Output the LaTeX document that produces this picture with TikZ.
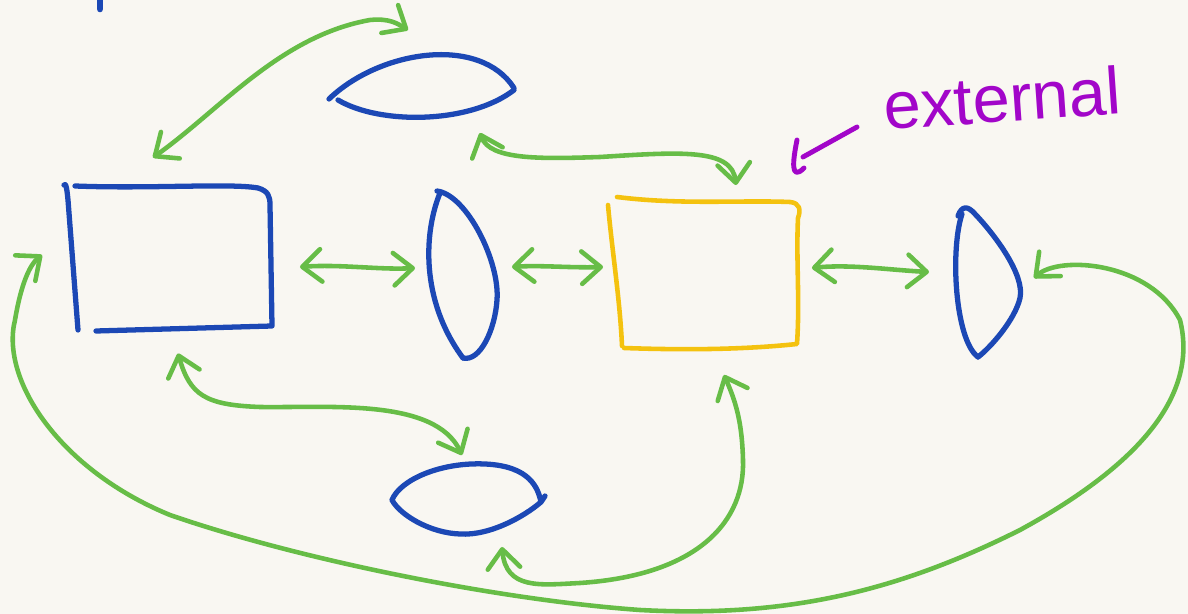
\documentclass[tikz,border=0pt]{standalone}
\usepackage{fontspec}
\setsansfont{Liberation Sans}
\usetikzlibrary{arrows.meta,calc}
\definecolor{bg}{HTML}{F9F7F2}
\definecolor{pen}{HTML}{1C48B5}
\definecolor{grn}{HTML}{67BD47}
\definecolor{ylw}{HTML}{F4C20F}
\definecolor{prp}{HTML}{A206C9}
\begin{document}
\begin{tikzpicture}[x=0.02cm,y=-0.02cm,
  bluepen/.style={draw=pen, line width=3pt, line cap=round, line join=round},
  yellowpen/.style={draw=ylw, line width=2.6pt, line cap=round, line join=round},
  link/.style={draw=grn, line width=2.6pt, line cap=round, line join=round,
    {Straight Barb[length=3.8mm,width=6.5mm,round]}-{Straight Barb[length=3.8mm,width=6.5mm,round]}},
  holder/.style={draw=none, inner sep=0pt, outer sep=0pt, rectangle},
  exttext/.style={text=prp, font=\sffamily\fontsize{38}{42}\selectfont, inner sep=0pt},
  note/.style={draw=prp, line width=2.8pt, line cap=round, line join=round}]
\fill[bg] (0,0) rectangle (1188,614);
\useasboundingbox (0,0) rectangle (1188,614);

% placeholders naming each shape
\node[holder, minimum width=4cm, minimum height=2.9cm] (A) at (170,258) {};
\node[holder, minimum width=3.72cm, minimum height=1.52cm] (TL) at (422,83) {};
\node[holder, minimum width=1.4cm, minimum height=3.4cm] (ML) at (463,275) {};
\node[holder, minimum width=3.92cm, minimum height=3.12cm] (Y) at (704,273) {};
\node[holder, minimum width=1.44cm, minimum height=3cm] (RL) at (988,284) {};
\node[holder, minimum width=3.12cm, minimum height=1.44cm] (BE) at (467,499) {};

% stray blue mark
\draw[bluepen, line width=3.8pt] (100,0) -- (100,9);

% box A
\draw[bluepen] (64,185) .. controls (66,182) and (67,190) .. (68,200) -- (78,330);
\draw[bluepen] (75,186) .. controls (150,189) and (230,183) .. (258,188)
  .. controls (268,191) and (270,196) .. (270,205) -- (272,326) -- (96,331);

% top lens
\draw[bluepen] (329,99) .. controls (380,50) and (480,35) .. (514,88);
\draw[bluepen] (338,100) .. controls (380,125) and (470,124) .. (514,90);

% middle lens
\draw[bluepen] (437,191) .. controls (467,195) and (500,262) .. (497,300)
  .. controls (495,330) and (480,362) .. (463,358);
\draw[bluepen] (440,193) .. controls (424,232) and (420,300) .. (463,358);

% yellow box
\draw[yellowpen] (608,205) .. controls (612,250) and (620,300) .. (622,346);
\draw[yellowpen] (617,197) .. controls (680,205) and (740,200) .. (790,202)
  .. controls (800,203) and (801,210) .. (798,218)
  .. controls (796,260) and (800,300) .. (797,344)
  .. controls (740,350) and (680,350) .. (624,348);

% right lens
\draw[bluepen] (962,214) .. controls (950,250) and (955,340) .. (978,357);
\draw[bluepen] (958,216) .. controls (962,205) and (968,206) .. (975,214)
  .. controls (995,235) and (1025,275) .. (1020,298)
  .. controls (1015,320) and (990,348) .. (978,357);

% bottom ellipse
\draw[bluepen] (392,500) .. controls (400,480) and (440,462) .. (485,464)
  .. controls (530,466) and (538,488) .. (541,502)
  .. controls (525,516) and (490,536) .. (460,534)
  .. controls (430,533) and (400,515) .. (392,500);
\draw[bluepen] (541,502) -- (545,496);

% connectors
\draw[link] ($(A.north)+(-17,-28)$) .. controls (220,110) and (280,36) .. (370,20)
  .. controls (390,18) and (398,24) .. ($(TL.north)+(-14,-15)$);
\draw[link] ($(TL.south)+(58,12)$) .. controls (490,160) and (540,159) .. (600,157)
  .. controls (680,152) and (732,148) .. ($(Y.north)+(32,-10)$);
\draw[link] ($(A.east)+(30,9)$) .. controls (340,264) and (380,270) .. ($(ML.west)+(-13,-7)$);
\draw[link] ($(ML.east)+(14,-8)$) .. controls (540,265) and (570,268) .. ($(Y.west)+(-3,-6)$);
\draw[link] ($(Y.east)+(10,-5)$) .. controls (850,264) and (890,270) .. ($(RL.west)+(-23,-12)$);
\draw[link] ($(A.south)+(8,23)$) .. controls (190,395) and (205,405) .. (260,407)
  .. controls (330,408) and (435,398) .. ($(BE.north)+(-5,-8)$);
\draw[link] ($(BE.south)+(35,12)$) .. controls (506,590) and (540,585) .. (580,583)
  .. controls (700,575) and (745,520) .. (743,460)
  .. controls (742,420) and (735,400) .. ($(Y.south)+(20,24)$);
\draw[link] ($(RL.east)+(10,-6)$) .. controls (1060,255) and (1150,262) .. (1180,320)
  .. controls (1200,400) and (1130,470) .. (1020,530)
  .. controls (900,590) and (790,618) .. (640,610)
  .. controls (500,600) and (300,560) .. (170,515)
  .. controls (60,470) and (0,380) .. (15,320)
  .. controls (20,290) and (28,266) .. ($(A.west)+(-28,-3)$);

% label
\node[exttext, anchor=base west, rotate=4] (ext) at (885,130) {external};
\draw[note] ($(ext.base west)+(-28,-3)$) -- (803,157);
\draw[note] (797,140) .. controls (793,160) and (790,182) .. (804,168);
\end{tikzpicture}
\end{document}
